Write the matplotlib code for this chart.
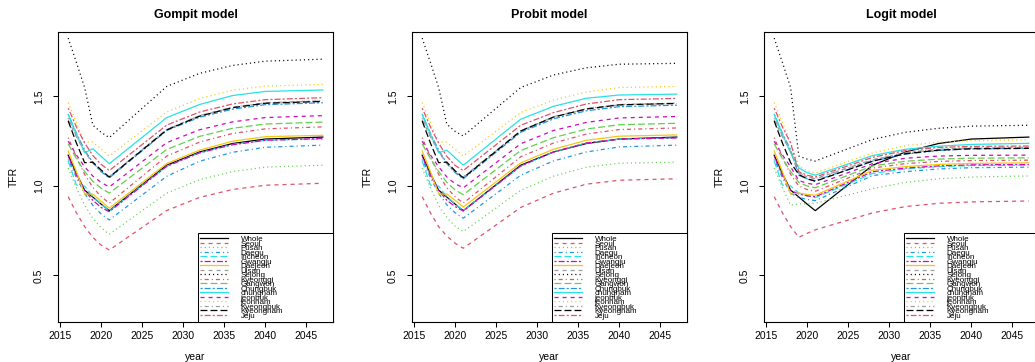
import matplotlib
matplotlib.use("Agg")
import matplotlib.pyplot as plt

plt.rcParams["font.family"] = ["Liberation Sans", "DejaVu Sans"]
plt.rcParams["lines.scale_dashes"] = False

regions = ["Whole", "Seoul", "Pusan", "Daegu", "Incheon", "Gwangju", "Daejeon",
           "Ulsan", "Sejong", "Kyeonggi", "Gangwon", "Chungbuk", "chungnam",
           "jeonbuk", "jeonnam", "Kyeongbuk", "Kyeongnam", "Jeju"]

obs_years = [2016, 2017, 2018]
fc_years = [2019, 2020, 2021, 2028, 2032, 2036, 2040, 2047]

# observed TFR 2016-2018, shared by all three models
observed = [
    [1.172, 1.070, 0.977],
    [0.940, 0.850, 0.773],
    [1.100, 0.990, 0.893],
    [1.148, 1.047, 0.959],
    [1.140, 1.005, 1.000],
    [1.165, 1.060, 0.975],
    [1.195, 1.080, 0.955],
    [1.370, 1.274, 1.191],
    [1.826, 1.690, 1.550],
    [1.270, 1.160, 1.065],
    [1.235, 1.153, 1.081],
    [1.400, 1.294, 1.201],
    [1.400, 1.290, 1.185],
    [1.250, 1.173, 1.107],
    [1.466, 1.355, 1.245],
    [1.380, 1.280, 1.196],
    [1.363, 1.240, 1.130],
    [1.435, 1.330, 1.240],
]

whole_fc = [0.938, 0.899, 0.862, 1.116, 1.190, 1.237, 1.262, 1.273]

gompit_fc = [
    whole_fc,
    [0.713, 0.670, 0.642, 0.863, 0.936, 0.980, 1.004, 1.015],
    [0.819, 0.767, 0.730, 0.960, 1.035, 1.080, 1.105, 1.116],
    [0.891, 0.844, 0.810, 1.054, 1.138, 1.188, 1.216, 1.228],
    [0.940, 0.900, 0.860, 1.110, 1.185, 1.232, 1.255, 1.262],
    [0.920, 0.880, 0.856, 1.110, 1.185, 1.230, 1.255, 1.265],
    [0.955, 0.915, 0.876, 1.125, 1.200, 1.250, 1.275, 1.283],
    [1.127, 1.082, 1.050, 1.315, 1.392, 1.438, 1.464, 1.475],
    [1.340, 1.300, 1.270, 1.556, 1.629, 1.673, 1.697, 1.708],
    [0.992, 0.941, 0.904, 1.167, 1.245, 1.293, 1.319, 1.330],
    [1.026, 0.988, 0.960, 1.204, 1.277, 1.322, 1.346, 1.357],
    [1.130, 1.080, 1.045, 1.310, 1.384, 1.429, 1.454, 1.465],
    [1.208, 1.166, 1.124, 1.382, 1.455, 1.505, 1.528, 1.536],
    [1.055, 1.020, 0.994, 1.242, 1.314, 1.358, 1.382, 1.393],
    [1.245, 1.206, 1.167, 1.414, 1.488, 1.535, 1.558, 1.567],
    [1.130, 1.085, 1.052, 1.316, 1.393, 1.440, 1.465, 1.476],
    [1.133, 1.090, 1.049, 1.313, 1.390, 1.437, 1.462, 1.472],
    [1.170, 1.121, 1.086, 1.340, 1.413, 1.458, 1.482, 1.493],
]

probit_fc = [
    whole_fc,
    [0.720, 0.680, 0.652, 0.880, 0.960, 1.010, 1.032, 1.040],
    [0.825, 0.775, 0.745, 0.976, 1.055, 1.105, 1.127, 1.133],
    [0.895, 0.850, 0.820, 1.060, 1.140, 1.190, 1.218, 1.228],
    [0.940, 0.900, 0.862, 1.110, 1.190, 1.240, 1.262, 1.268],
    [0.920, 0.885, 0.860, 1.112, 1.190, 1.240, 1.262, 1.268],
    [0.955, 0.920, 0.882, 1.129, 1.205, 1.255, 1.278, 1.285],
    [1.125, 1.080, 1.048, 1.307, 1.385, 1.430, 1.453, 1.461],
    [1.345, 1.305, 1.279, 1.550, 1.620, 1.660, 1.680, 1.685],
    [0.990, 0.940, 0.904, 1.163, 1.240, 1.290, 1.315, 1.324],
    [1.020, 0.978, 0.951, 1.198, 1.270, 1.318, 1.342, 1.350],
    [1.125, 1.075, 1.040, 1.300, 1.375, 1.420, 1.443, 1.451],
    [1.200, 1.158, 1.116, 1.373, 1.445, 1.490, 1.508, 1.513],
    [1.050, 1.013, 0.989, 1.236, 1.310, 1.355, 1.380, 1.388],
    [1.245, 1.205, 1.167, 1.410, 1.480, 1.525, 1.550, 1.556],
    [1.128, 1.082, 1.050, 1.309, 1.387, 1.432, 1.455, 1.463],
    [1.133, 1.085, 1.045, 1.307, 1.385, 1.430, 1.453, 1.461],
    [1.165, 1.115, 1.086, 1.339, 1.410, 1.458, 1.482, 1.489],
]

logit_fc = [
    whole_fc,
    [0.713, 0.735, 0.755, 0.850, 0.885, 0.903, 0.911, 0.916],
    [0.900, 0.900, 0.903, 0.985, 1.020, 1.040, 1.050, 1.056],
    [0.935, 0.925, 0.918, 1.058, 1.080, 1.095, 1.102, 1.105],
    [0.960, 0.945, 0.935, 1.070, 1.095, 1.108, 1.114, 1.116],
    [0.955, 0.945, 0.940, 1.080, 1.100, 1.112, 1.118, 1.120],
    [0.960, 0.953, 0.948, 1.088, 1.108, 1.120, 1.126, 1.129],
    [1.070, 1.050, 1.040, 1.145, 1.185, 1.203, 1.212, 1.215],
    [1.167, 1.150, 1.139, 1.260, 1.300, 1.322, 1.334, 1.339],
    [1.000, 0.980, 0.970, 1.100, 1.125, 1.137, 1.142, 1.144],
    [1.020, 1.000, 0.990, 1.112, 1.138, 1.150, 1.155, 1.157],
    [1.060, 1.040, 1.030, 1.138, 1.178, 1.198, 1.207, 1.210],
    [1.100, 1.075, 1.060, 1.170, 1.205, 1.222, 1.232, 1.238],
    [1.030, 1.015, 1.007, 1.125, 1.155, 1.167, 1.171, 1.172],
    [1.110, 1.085, 1.073, 1.185, 1.225, 1.245, 1.253, 1.257],
    [1.075, 1.052, 1.042, 1.147, 1.187, 1.205, 1.213, 1.216],
    [1.064, 1.040, 1.026, 1.139, 1.180, 1.200, 1.208, 1.210],
    [1.080, 1.060, 1.050, 1.160, 1.198, 1.215, 1.221, 1.223],
]

models = ["Gompit model", "Probit model", "Logit model"]
model_fc = [gompit_fc, probit_fc, logit_fc]

# R default palette and lty cycle as used by matplot
palette = ["black", "#DF536B", "#61D04F", "#2297E6", "#28E2E5", "#CD0BBC",
           "#F5C710", "#9E9E9E"]
ltys = ["-", (0, (2.9, 2.9)), (0, (0.8, 2.2)), (0, (0.8, 2.2, 2.9, 2.2)),
        (0, (5.0, 2.2)), (0, (1.5, 1.5, 4.3, 1.5))]

W, H = 1035, 362
fig = plt.figure(figsize=(W / 100, H / 100), dpi=100)
lefts = [58, 412, 764]

years = obs_years + fc_years
for k, (title, fc) in enumerate(zip(models, model_fc)):
    ax = fig.add_axes([lefts[k] / W, 40 / H, 275 / W, 290 / H])
    for i, name in enumerate(regions):
        ax.plot(years, observed[i] + fc[i], color=palette[i % 8],
                linestyle=ltys[i % 6], lw=0.9, label=name)
    ax.set_xlim(2014.76, 2048.24)
    ax.set_ylim(0.24, 1.86)
    ax.set_xticks([2015, 2020, 2025, 2030, 2035, 2040, 2045])
    ax.set_yticks([0.5, 1.0, 1.5])
    ax.set_yticklabels(["0.5", "1.0", "1.5"], rotation=90, va="center")
    ax.tick_params(length=3.6, width=0.75, labelsize=7.5)
    ax.tick_params(axis="x", pad=3)
    ax.tick_params(axis="y", pad=6.5)
    for s in ax.spines.values():
        s.set_linewidth(0.8)
    ax.set_xlabel("year", fontsize=7.5, labelpad=8)
    ax.set_ylabel("TFR", fontsize=7.5, labelpad=11)
    ax.set_title(title, fontweight="bold", fontsize=9, pad=10)
    x0 = 140 / 275
    leg = ax.legend(loc="lower left", bbox_to_anchor=(x0, 0, 1 - x0, 0.3),
                    mode="expand", fontsize=5.8, labelspacing=-0.39,
                    handlelength=3.4, handletextpad=1.6, borderpad=0.3,
                    borderaxespad=0, fancybox=False, edgecolor="black",
                    framealpha=1)
    leg.get_frame().set_linewidth(0.75)

fig.savefig("out.png", dpi=100)
